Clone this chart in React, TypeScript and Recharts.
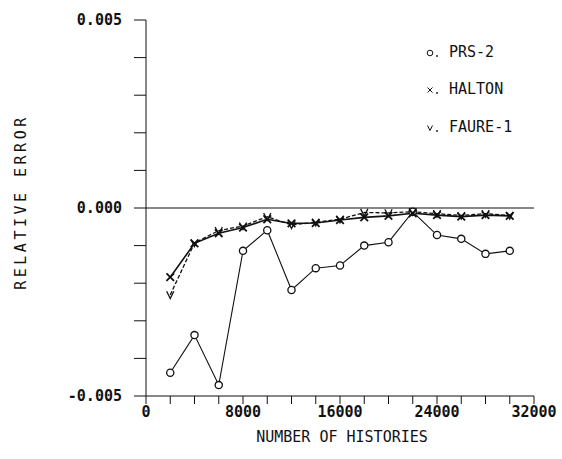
import React from 'react'
import { LineChart, Line, XAxis, YAxis, ReferenceLine, Legend } from 'recharts'

// number of histories at each sample
const histories = [2000, 4000, 6000, 8000, 10000, 12000, 14000, 16000, 18000, 20000, 22000, 24000, 26000, 28000, 30000]

// relative error per generator
const prs2 = [-0.00438, -0.00338, -0.00471, -0.00114, -0.00059, -0.00218, -0.0016, -0.00153, -0.001, -0.00091, -0.0001, -0.00072, -0.00082, -0.00122, -0.00114]
const halton = [-0.00184, -0.00094, -0.00067, -0.00052, -0.0003, -0.00041, -0.0004, -0.00032, -0.00025, -0.00021, -0.00014, -0.00019, -0.00023, -0.00019, -0.00021]
const faure1 = [-0.00231, -0.00093, -0.0006, -0.00048, -0.00023, -0.00045, -0.00038, -0.0003, -0.00012, -0.00013, -0.0001, -0.00015, -0.0002, -0.00015, -0.0002]

const xTicks = [0, 2000, 4000, 6000, 8000, 10000, 12000, 14000, 16000, 18000, 20000, 22000, 24000, 26000, 28000, 30000, 32000]
const xLabelled = [0, 8000, 16000, 24000, 32000]
const yTicks = [-0.005, -0.004, -0.003, -0.002, -0.001, 0, 0.001, 0.002, 0.003, 0.004, 0.005]
const yLabelled = [-0.005, 0, 0.005]

const legendItems = [
  { name: 'PRS-2', mark: 'circle' },
  { name: 'HALTON', mark: 'x' },
  { name: 'FAURE-1', mark: 'v' },
]

const data = histories.map((n, i) => ({ n, prs2: prs2[i], halton: halton[i], faure1: faure1[i] }))

const INK = '#111'
const mono = '"DejaVu Sans Mono", monospace'

const fmtX = (v: number) => (xLabelled.includes(v) ? String(v) : '')
const fmtY = (v: number) => (yLabelled.some((l) => Math.abs(l - v) < 1e-9) ? v.toFixed(3) : '')

const CircleDot = (p: any) => (
  <circle key={`c${p.index}`} cx={p.cx} cy={p.cy} r={3.6} fill="#fff" stroke={INK} strokeWidth={1.3} />
)

const XDot = (p: any) => {
  const s = 3.8
  return (
    <path key={`x${p.index}`} d={`M${p.cx - s},${p.cy - s}L${p.cx + s},${p.cy + s}M${p.cx - s},${p.cy + s}L${p.cx + s},${p.cy - s}`} stroke={INK} strokeWidth={1.8} fill="none" />
  )
}

const VDot = (p: any) => {
  const s = 3.6
  return (
    <path key={`v${p.index}`} d={`M${p.cx - s},${p.cy - s}L${p.cx},${p.cy + s}L${p.cx + s},${p.cy - s}`} stroke={INK} strokeWidth={1.3} fill="none" />
  )
}

const Marker = ({ mark }: { mark: string }) => (
  <svg width={16} height={12} style={{ marginRight: 8 }}>
    {mark === 'circle' && <circle cx={5} cy={7} r={2.8} fill="none" stroke={INK} strokeWidth={1} />}
    {mark === 'x' && <path d="M2.5,4.5L7.5,9.5M2.5,9.5L7.5,4.5" stroke={INK} strokeWidth={1} />}
    {mark === 'v' && <path d="M2.5,4.5L5,9.5L7.5,4.5" stroke={INK} strokeWidth={1} fill="none" />}
    <circle cx={12} cy={10} r={0.9} fill={INK} />
  </svg>
)

const renderLegend = () => (
  <div style={{ fontFamily: mono, fontSize: 15, color: INK }}>
    {legendItems.map((it) => (
      <div key={it.name} style={{ display: 'flex', alignItems: 'center', height: 37.5 }}>
        <Marker mark={it.mark} />
        <span>{it.name}</span>
      </div>
    ))}
  </div>
)

const YTitle = () => (
  <text x={21} y={202} transform="rotate(-90 21 202)" textAnchor="middle" dominantBaseline="central"
    fontFamily={mono} fontSize={15} letterSpacing={3.5} fill={INK}>
    RELATIVE ERROR
  </text>
)

const XTitle = () => (
  <text x={342} y={437} textAnchor="middle" dominantBaseline="central" fontFamily={mono} fontSize={15} fill={INK}>
    NUMBER OF HISTORIES
  </text>
)

export default function App() {
  return (
    <div style={{ position: 'absolute', left: 0, top: 0, background: '#fff' }}>
      <LineChart width={562} height={459} data={data} margin={{ top: 20, right: 28, bottom: 33, left: 0 }}>
        <XAxis
          dataKey="n" type="number" domain={[0, 32000]} ticks={xTicks} tickFormatter={fmtX}
          interval={0} height={30} tickSize={8} tickMargin={2}
          stroke={INK} tickLine={{ stroke: INK }}
          tick={{ fontFamily: mono, fontSize: 15, fontWeight: 'bold', fill: INK }}
          label={<XTitle />}
        />
        <YAxis
          type="number" domain={[-0.005, 0.005]} ticks={yTicks} tickFormatter={fmtY}
          interval={0} width={146} tickSize={12} tickMargin={12}
          stroke={INK} tickLine={{ stroke: INK }}
          tick={{ fontFamily: mono, fontSize: 15, fontWeight: 'bold', fill: INK }}
          label={<YTitle />}
        />
        <ReferenceLine y={0} stroke={INK} strokeWidth={1} />
        <Legend
          layout="horizontal" verticalAlign="middle" align="center"
          content={renderLegend}
          wrapperStyle={{ left: 425, top: 33, width: 130 }}
        />
        <Line dataKey="prs2" stroke={INK} strokeWidth={1.1} dot={CircleDot} isAnimationActive={false} />
        <Line dataKey="halton" stroke={INK} strokeWidth={1.6} dot={XDot} isAnimationActive={false} />
        <Line dataKey="faure1" stroke={INK} strokeWidth={1.3} strokeDasharray="4 2" dot={VDot} isAnimationActive={false} />
      </LineChart>
    </div>
  )
}
